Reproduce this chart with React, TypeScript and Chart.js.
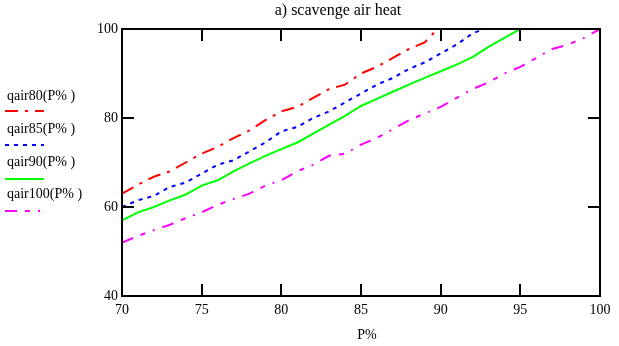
import React, { useEffect, useRef } from "react";
import { Chart, registerables } from "chart.js";

Chart.register(...registerables);

const titleText = "a) scavenge air heat";
const xTitle = "P%";
const legendLabels = ["qair80(P% )", "qair85(P% )", "qair90(P% )", "qair100(P% )"];
const colors = ["#ff0000", "#0000ff", "#00ff00", "#ff00ff"];

const xTicks = [70, 75, 80, 85, 90, 95, 100];
const yTicks = [40, 60, 80, 100];

const p80 = [70, 71, 72, 73, 74, 75, 76, 77, 78, 79, 80, 81, 82, 83, 84, 85, 86, 87, 88, 89, 89.8];
const q80 = [63, 65, 66.8, 68, 70, 72, 73.5, 75.5, 77.2, 79.5, 81.5, 82.5, 84.5, 86.5, 87.5, 90, 91.5, 93.5, 95.5, 97, 100];

const p85 = [70, 71, 72, 73, 74, 75, 76, 77, 78, 79, 80, 81, 82, 83, 84, 85, 86, 87, 88, 89, 90, 91, 92, 92.7];
const q85 = [60, 61.5, 62.5, 64.5, 65.5, 67.5, 69.5, 70.5, 72.5, 74.5, 77, 78, 80, 81.5, 83.5, 85.5, 87.5, 89, 91, 92.5, 94.5, 96.5, 99, 100];

const p90 = [70, 71, 72, 73, 74, 75, 76, 77, 78, 79, 80, 81, 82, 83, 84, 85, 86, 87, 88, 89, 90, 91, 92, 93, 94, 95];
const q90 = [57, 58.8, 60, 61.5, 62.8, 64.8, 66, 68, 69.8, 71.5, 73, 74.5, 76.5, 78.5, 80.5, 82.7, 84.3, 85.9, 87.5, 89, 90.5, 92, 93.7, 96, 98, 100];

const p100 = [70, 71, 72, 73, 74, 75, 76, 77, 78, 79, 80, 81, 82, 83, 84, 85, 86, 87, 88, 89, 90, 91, 92, 93, 94, 95, 96, 97, 98, 99, 100];
const q100 = [52, 53.5, 54.8, 56, 57.5, 58.8, 60.5, 61.8, 63, 64.8, 66, 68, 69.5, 71.5, 72, 74, 75.5, 77.5, 79.5, 81, 82.5, 84.5, 86.5, 88, 90, 91.5, 93.5, 95.5, 96.5, 98, 100];

const dashes = [[13, 7, 3, 7], [4, 5], [], [12, 8, 5, 8, 2, 8]];

const pts = (xs: number[], ys: number[]) => xs.map((x, i) => ({ x, y: ys[i] }));

const FONT = "'Liberation Serif', 'DejaVu Serif', serif";

const decorPlugin = {
  id: "decor",
  afterDraw(chart: any) {
    const ctx = chart.ctx;
    const { left, right, top, bottom } = chart.chartArea;
    const xs = chart.scales.x;
    const ys = chart.scales.y;
    ctx.save();
    ctx.strokeStyle = "#000";
    ctx.lineWidth = 2;
    ctx.setLineDash([]);
    ctx.strokeRect(left, top, right - left, bottom - top);
    ctx.beginPath();
    const tl = 12;
    xTicks.forEach((v) => {
      const px = Math.round(xs.getPixelForValue(v));
      ctx.moveTo(px, bottom);
      ctx.lineTo(px, bottom - tl);
      ctx.moveTo(px, top);
      ctx.lineTo(px, top + tl);
    });
    yTicks.forEach((v) => {
      const py = Math.round(ys.getPixelForValue(v));
      ctx.moveTo(left, py);
      ctx.lineTo(left + tl, py);
      ctx.moveTo(right, py);
      ctx.lineTo(right - tl, py);
    });
    ctx.stroke();

    ctx.fillStyle = "#000";
    ctx.textBaseline = "middle";
    ctx.textAlign = "center";
    ctx.font = `16px ${FONT}`;
    ctx.fillText(titleText, 338, 11);
    ctx.font = `14px ${FONT}`;
    ctx.fillText(xTitle, 367, 335);

    ctx.textAlign = "left";
    const textY = [96, 129, 162, 194];
    const lineY = [111, 145, 179, 211];
    legendLabels.forEach((lab, i) => {
      ctx.fillStyle = "#000";
      ctx.font = `14px ${FONT}`;
      ctx.fillText(lab, 7, textY[i]);
      ctx.strokeStyle = colors[i];
      ctx.lineWidth = 2;
      ctx.setLineDash(dashes[i]);
      ctx.beginPath();
      ctx.moveTo(5, lineY[i]);
      ctx.lineTo(44, lineY[i]);
      ctx.stroke();
    });
    ctx.restore();
  },
};

export default function App() {
  const ref = useRef<HTMLCanvasElement>(null);
  useEffect(() => {
    if (!ref.current) return;
    Chart.defaults.font.family = FONT;
    const series = [pts(p80, q80), pts(p85, q85), pts(p90, q90), pts(p100, q100)];
    const chart = new Chart(ref.current, {
      type: "line",
      data: {
        datasets: series.map((d, i) => ({
          label: legendLabels[i],
          data: d,
          borderColor: colors[i],
          borderWidth: 2,
          borderDash: dashes[i],
          pointRadius: 0,
          fill: false,
          tension: 0,
        })),
      },
      options: {
        animation: false,
        responsive: false,
        maintainAspectRatio: false,
        layout: { padding: { left: 0, right: 19, top: 29, bottom: 0 } },
        plugins: { legend: { display: false }, title: { display: false }, tooltip: { enabled: false } },
        scales: {
          x: {
            type: "linear",
            min: 70,
            max: 100,
            afterFit: (s: any) => { s.height = 50; },
            afterBuildTicks: (s: any) => { s.ticks = xTicks.map((v) => ({ value: v })); },
            grid: { display: false, drawTicks: false },
            border: { display: false },
            ticks: { color: "#000", font: { size: 14, family: FONT }, padding: 6, maxRotation: 0 },
          },
          y: {
            type: "linear",
            min: 40,
            max: 100,
            afterFit: (s: any) => { s.width = 122; },
            afterBuildTicks: (s: any) => { s.ticks = yTicks.map((v) => ({ value: v })); },
            grid: { display: false, drawTicks: false },
            border: { display: false },
            ticks: { color: "#000", font: { size: 14, family: FONT }, padding: 4 },
          },
        },
      },
      plugins: [decorPlugin],
    });
    return () => chart.destroy();
  }, []);
  return (
    <div style={{ position: "fixed", left: 0, top: 0, width: 619, height: 346, background: "#fff" }}>
      <canvas ref={ref} width={619} height={346} style={{ width: 619, height: 346 }} />
    </div>
  );
}
